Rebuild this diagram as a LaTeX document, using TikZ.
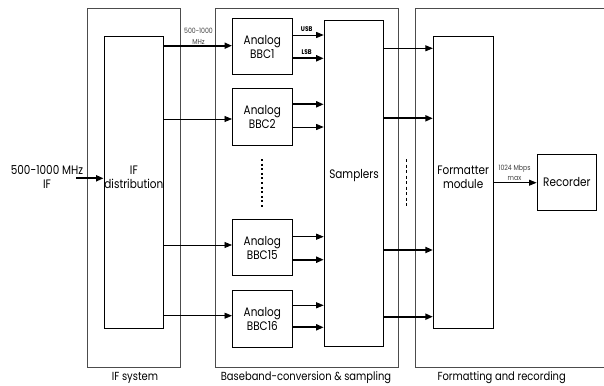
\documentclass[tikz,border=0pt]{standalone}
\usepackage{fontspec}
\setmainfont{Poppins}[FakeStretch=0.85]
\usetikzlibrary{arrows.meta}
\begin{document}
\begin{tikzpicture}[x=1pt,y=-1pt,
  outer/.style={draw=black!70, line width=0.7pt},
  blk/.style={draw=black, line width=0.9pt, minimum width=59.7pt, inner sep=0pt},
  bbc/.style={blk, minimum height=56.5pt, align=center, font=\fontsize{12.3}{14.3}\selectfont},
  lbl/.style={align=center, font=\fontsize{12.3}{14.3}\selectfont, inner sep=0pt},
  small/.style={align=center, font=\fontsize{7.3}{10.6}\selectfont, text=black!75, inner sep=0pt},
  sb/.style={font=\fontsize{6.8}{7}\selectfont\bfseries, inner sep=0pt},
  captext/.style={font=\fontsize{11.7}{13}\selectfont, inner sep=0pt},
  arr/.style={-{Triangle[length=7.5pt,width=6pt]}, line width=0.8pt},
  arrt/.style={-{Triangle[length=7.5pt,width=6pt]}, line width=1.8pt},
]
\useasboundingbox (0,0) rectangle (604,385);
% outer boxes
\node[outer, minimum width=93pt, minimum height=359.4pt, inner sep=0pt] (ifs) at (133.8,188) {};
\node[outer, minimum width=182.6pt, minimum height=359.4pt, inner sep=0pt] (bbs) at (307,188) {};
\coordinate (frtl) at (415.3,8.3);
\coordinate (frbl) at (415.3,367.7);
\coordinate (frtr) at (604,8.3);
\coordinate (frbr) at (604,367.7);
\draw[outer] (frtr) -- (frtl) -- (frbl) -- (frbr);
% blocks
\node[blk, minimum height=291.6pt] (ifd) at (133.85,182.5) {};
\node[lbl] (ifdt) at (133.85,177.5) {IF\\distribution};
\node[bbc] (bbc1) at (262.3,46.65) {Analog\\BBC1};
\node[bbc] (bbc2) at (262.3,117.15) {Analog\\BBC2};
\node[bbc] (bbc15) at (262.3,247.65) {Analog\\BBC15};
\node[bbc] (bbc16) at (262.3,318.7) {Analog\\BBC16};
\node[blk, minimum height=326.7pt] (smp) at (354,183.35) {};
\node[lbl] (smpt) at (354,175.7) {Samplers};
\node[blk, minimum height=291.6pt] (fmt) at (463.15,182.5) {};
\node[lbl] (fmtt) at (463.15,177.5) {Formatter\\module};
\node[bbc] (rec) at (566.85,182.35) {Recorder};
% input
\node[lbl] (inl) at (47,177) {500-1000 MHz\\IF};
\coordinate (ifin) at (76,178.3);
\draw[arrt] (ifin) -- (ifin -| ifd.west);
% IF dist -> BBCs
\coordinate (y1) at (0,45.7);
\coordinate (y2) at (0,119);
\coordinate (y15) at (0,245);
\coordinate (y16) at (0,315.7);
\draw[arrt] (ifd.east |- y1) -- (bbc1.west |- y1);
\draw[arr] (ifd.east |- y2) -- (bbc2.west |- y2);
\draw[arr] (ifd.east |- y15) -- (bbc15.west |- y15);
\draw[arr] (ifd.east |- y16) -- (bbc16.west |- y16);
\node[small] (mhz) at (198.5,36.3) {500-1000\\MHz};
% BBC -> samplers
\coordinate (u1) at (0,35);
\coordinate (l1) at (0,58.3);
\coordinate (u2) at (0,104.3);
\coordinate (l2) at (0,127);
\coordinate (u15) at (0,236.7);
\coordinate (l15) at (0,259.7);
\coordinate (u16) at (0,305.3);
\coordinate (l16) at (0,327.3);
\draw[arr] (bbc1.east |- u1) -- (smp.west |- u1);
\draw[arrt] (bbc1.east |- l1) -- (smp.west |- l1);
\draw[arrt] (bbc2.east |- u2) -- (smp.west |- u2);
\draw[arr] (bbc2.east |- l2) -- (smp.west |- l2);
\draw[arr] (bbc15.east |- u15) -- (smp.west |- u15);
\draw[arrt] (bbc15.east |- l15) -- (smp.west |- l15);
\draw[arr] (bbc16.east |- u16) -- (smp.west |- u16);
\draw[arrt] (bbc16.east |- l16) -- (smp.west |- l16);
\node[sb] (usb) at (306.7,29) {USB};
\node[sb] (lsb) at (306.7,51.7) {LSB};
% dots
\coordinate (d1) at (262.3,159);
\coordinate (d2) at (262.3,206.7);
\draw[line width=1.8pt, dash pattern=on 2pt off 2.6pt] (d1) -- (d2);
\coordinate (e1) at (406.7,159);
\coordinate (e2) at (406.7,206.7);
\draw[line width=0.6pt, dash pattern=on 3pt off 2.5pt] (e1) -- (e2);
% samplers -> formatter
\coordinate (s1) at (0,48.3);
\coordinate (s2) at (0,118.3);
\coordinate (s3) at (0,250);
\coordinate (s4) at (0,316.7);
\draw[arr] (smp.east |- s1) -- (fmt.west |- s1);
\draw[arrt] (smp.east |- s2) -- (fmt.west |- s2);
\draw[arrt] (smp.east |- s3) -- (fmt.west |- s3);
\draw[arrt] (smp.east |- s4) -- (fmt.west |- s4);
% formatter -> recorder
\coordinate (r1) at (0,182.7);
\draw[arr] (fmt.east |- r1) -- (rec.west |- r1);
\node[small] (mbps) at (514.5,173) {1024 Mbps\\max};
% captions
\node[captext] (c1) at (135,378) {IF system};
\node[captext] (c2) at (306,378) {Baseband-conversion \& sampling};
\node[captext] (c3) at (501.7,378) {Formatting and recording};
\end{tikzpicture}
\end{document}
